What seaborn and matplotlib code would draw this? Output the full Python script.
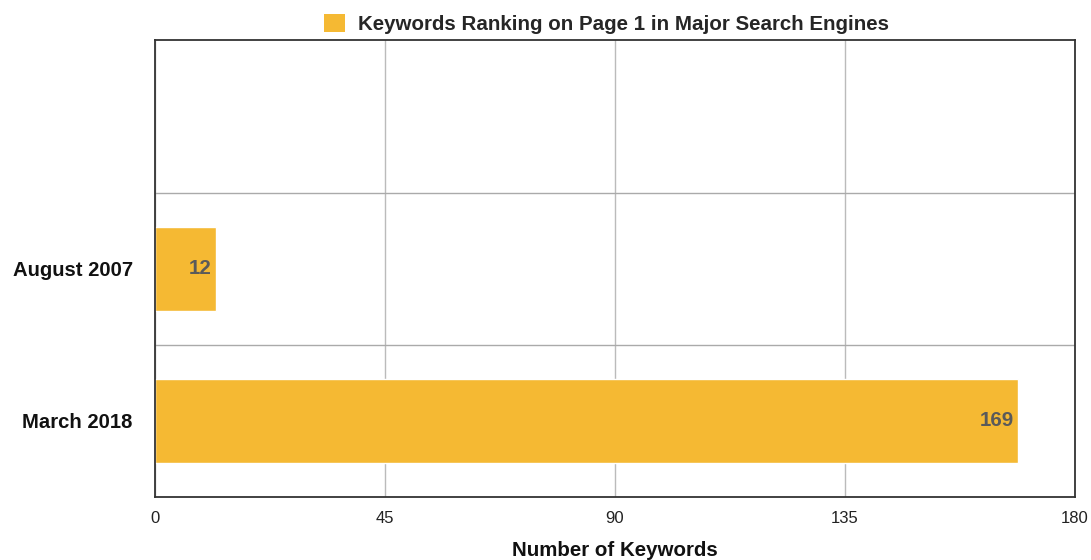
import pandas as pd
import seaborn as sns
import matplotlib.pyplot as plt
from matplotlib.patches import Patch

periods = ['August 2007', 'March 2018']
keywords = [12, 169]
x_ticks = [0, 45, 90, 135, 180]
series_name = 'Keywords Ranking on Page 1 in Major Search Engines'

df = pd.DataFrame({'Period': periods, 'Keywords': keywords})

sns.set_theme(style='white')
plt.rcParams['font.family'] = ['Liberation Sans', 'DejaVu Sans']

bar_color = '#F5B933'

fig = plt.figure(figsize=(10.91, 5.6), dpi=100)
ax = fig.add_axes([0.142, 0.1125, 0.843, 0.8155])

sns.barplot(data=df, x='Keywords', y='Period', orient='h', color=bar_color,
            width=0.55, saturation=1, ax=ax)

# one empty row on top, like the original
ax.set_ylim(1.5, -1.5)
ax.set_xlim(0, 180)
ax.set_xticks(x_ticks)
ax.set_xticklabels([str(t) for t in x_ticks], fontsize=12, color='#222')
ax.set_yticks([0, 1])
ax.set_yticklabels(periods, fontsize=14.6, fontweight='bold', color='#111')
ax.set_yticks([-0.5, 0.5], minor=True)
ax.tick_params(axis='y', which='both', length=0, pad=16)
ax.tick_params(axis='x', length=0, pad=10)

ax.grid(axis='x', color='#bbbbbb', linewidth=1)
ax.grid(axis='y', which='minor', color='#aaaaaa', linewidth=1)
ax.grid(axis='y', which='major', visible=False)
ax.set_axisbelow(True)

for s in ax.spines.values():
    s.set_visible(True)
    s.set_color('#333333')
    s.set_linewidth(1.3)

for i, v in enumerate(keywords):
    ax.annotate(str(v), xy=(v, i), xytext=(-3, 0), textcoords='offset points',
                ha='right', va='center', fontsize=14.8, fontweight='bold',
                color='#5a5a5a')

ax.set_ylabel('')
ax.set_xlabel('Number of Keywords', fontsize=14.8, fontweight='bold',
              color='#111', labelpad=11)

handle = Patch(facecolor=bar_color, edgecolor='none')
fig.legend([handle], [series_name], loc='center', bbox_to_anchor=(0.556, 0.957),
           bbox_transform=fig.transFigure, frameon=False, handlelength=1.0,
           handleheight=1.0, handletextpad=0.65, borderaxespad=0,
           prop={'weight': 'bold', 'size': 14.8})

fig.savefig('out.png', dpi=100)
